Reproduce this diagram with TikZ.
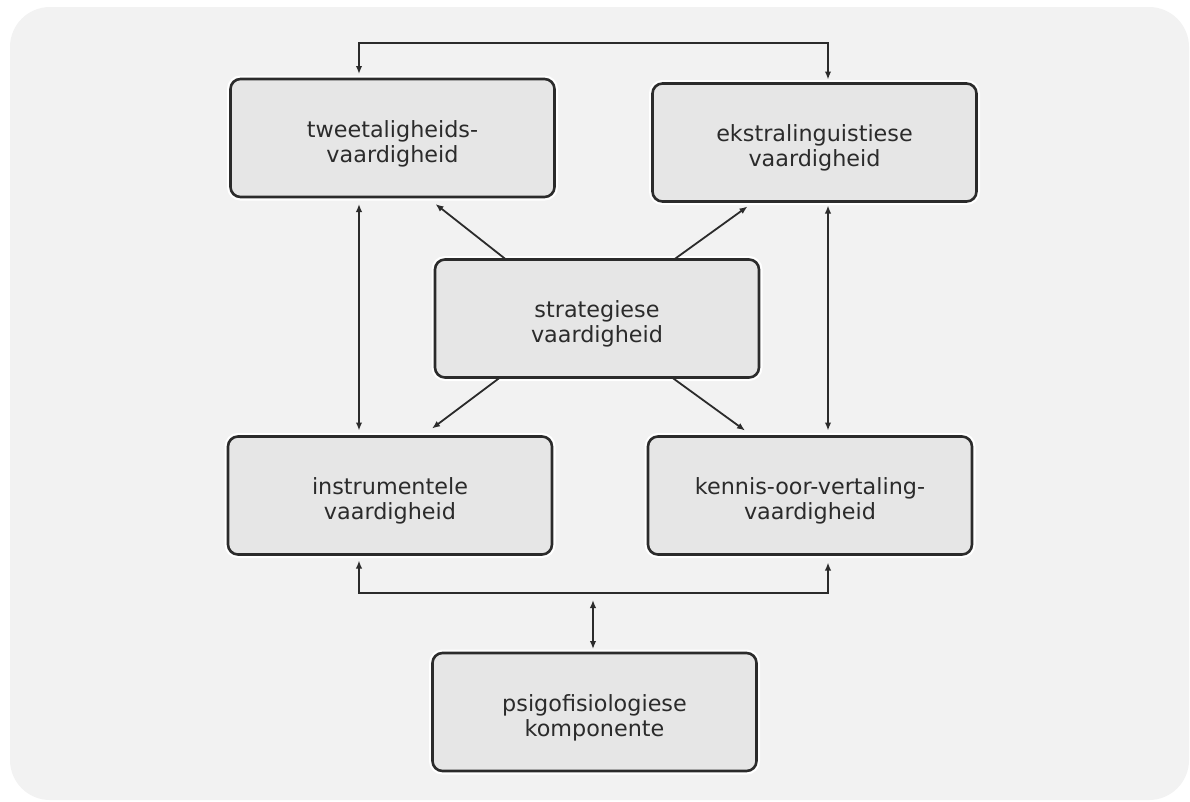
\documentclass[tikz,border=0pt]{standalone}
\usepackage{fontspec}
\setmainfont{DejaVu Sans}
\usetikzlibrary{arrows.meta,calc}
\definecolor{bg}{HTML}{F2F2F2}
\definecolor{boxfill}{HTML}{E6E6E6}
\definecolor{ink}{HTML}{2B2B2B}
\newcommand{\boxstrut}{\rule{0pt}{28pt}}
\begin{document}
\begin{tikzpicture}[x=1pt,y=-1pt,
  box/.style={rectangle, rounded corners=10pt, draw=ink, line width=2.6pt,
    fill=boxfill, minimum width=324pt, minimum height=118pt, inner sep=0pt,
    outer sep=0pt, align=center, font=\fontsize{22.3}{25}\selectfont, text=ink,
    preaction={draw=white, line width=7pt}},
  conn/.style={draw=ink, line width=1.8pt},
  onearrow/.style={-{Latex[length=8pt,width=6.5pt]}},
  twoarrow/.style={{Latex[length=8pt,width=6.5pt]}-{Latex[length=8pt,width=6.5pt]}}
]
\useasboundingbox (0,0) rectangle (1190,801);
\fill[bg, rounded corners=40pt] (10,7) rectangle (1189,800);

\node[box] (tw) at (392.5,138)   {\boxstrut tweetaligheids-\\vaardigheid};
\node[box] (ek) at (814.5,142.5) {\boxstrut ekstralinguistiese\\vaardigheid};
\node[box] (st) at (597,318.5)   {\boxstrut strategiese\\vaardigheid};
\node[box] (in) at (390,495.5)   {\boxstrut instrumentele\\vaardigheid};
\node[box] (kn) at (810,495.5)   {\boxstrut kennis-oor-vertaling-\\vaardigheid};
\node[box] (ps) at (594.5,712)   {\boxstrut psigofisiologiese\\komponente};

\coordinate (xl) at (359,0);
\coordinate (xr) at (828,0);
\coordinate (tp) at (0,43);
\coordinate (bk) at (593,593);

% top bracket
\draw[conn, twoarrow, shorten <=5pt, shorten >=4pt]
  (tw.north -| xl) -- (xl |- tp) -- (xr |- tp) -- (ek.north -| xr);
% verticals
\draw[conn, twoarrow, shorten <=7pt, shorten >=6pt] (tw.south -| xl) -- (in.north -| xl);
\draw[conn, twoarrow, shorten <=4pt, shorten >=6pt] (ek.south -| xr) -- (kn.north -| xr);
% diagonals from strategiese
\draw[conn, onearrow] ($(st.north west)+(71,0)$)  -- ($(tw.south west)+(205,7)$);
\draw[conn, onearrow] ($(st.north east)+(-85,0)$) -- ($(ek.south west)+(95,5)$);
\draw[conn, onearrow] ($(st.south west)+(65,0)$)  -- ($(in.north west)+(204,-8)$);
\draw[conn, onearrow] ($(st.south east)+(-87,0)$) -- ($(kn.north west)+(97,-6)$);
% bottom bracket
\draw[conn, twoarrow, shorten <=6pt, shorten >=8pt]
  (in.south -| xl) -- (xl |- bk) -- (xr |- bk) -- (kn.south -| xr);
\draw[conn, twoarrow, shorten <=7pt, shorten >=4pt] (bk) -- (ps.north -| bk);
\end{tikzpicture}
\end{document}
